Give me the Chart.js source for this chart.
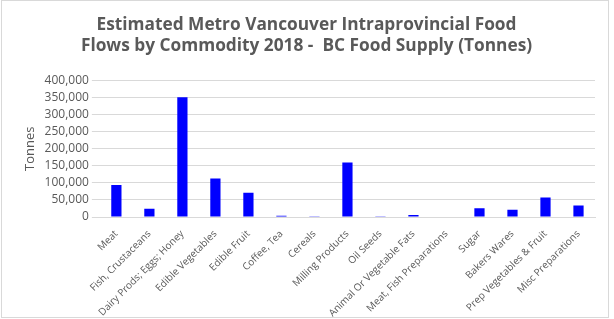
<!DOCTYPE html>
<html>
<head>
<meta charset="utf-8">
<script src="https://cdn.jsdelivr.net/npm/chart.js@4"></script>
<style>
  html, body { margin: 0; padding: 0; background: #fff; }
  #wrap { position: absolute; left: 1px; top: 0; width: 608px; height: 318px; border: 1px solid #d9d9d9; box-sizing: border-box; }
  canvas { display: block; }
</style>
</head>
<body>
<div id="wrap"><canvas id="flowChart" width="606" height="316"></canvas></div>
<script>
// Commodity categories and tonnes
const commodities = [
    'Meat', 'Fish, Crustaceans', 'Dairy Prods; Eggs; Honey', 'Edible Vegetables',
    'Edible Fruit', 'Coffee, Tea', 'Cereals', 'Milling Products', 'Oil Seeds',
    'Animal Or Vegetable Fats', 'Meat, Fish Preparations', 'Sugar', 'Bakers Wares',
    'Prep Vegetables & Fruit', 'Misc Preparations'
];
const tonnes = [94000, 24000, 351000, 113000, 71000, 4000, 1000, 160000, 1000, 6000, 1500, 26000, 21000, 57000, 34000];
const yTicks = [0, 50000, 100000, 150000, 200000, 250000, 300000, 350000, 400000];

const titleLines = [
    'Estimated Metro Vancouver Intraprovincial Food',
    'Flows by Commodity 2018 -  BC Food Supply (Tonnes)'
];

const ctx = document.getElementById('flowChart').getContext('2d');

new Chart(ctx, {
    type: 'bar',
    data: {
        labels: commodities,
        datasets: [{
            label: 'Tonnes',
            data: tonnes,
            backgroundColor: '#0000ff',
            barPercentage: 0.31,
            categoryPercentage: 1.0
        }]
    },
    options: {
        responsive: false,
        animation: false,
        layout: { padding: { left: 16, right: 13, top: 12, bottom: 0 } },
        plugins: {
            legend: { display: false },
            tooltip: { enabled: false },
            title: {
                display: true,
                text: titleLines,
                color: '#595959',
                font: { family: 'Open Sans', size: 17.3, weight: 'bold' },
                lineHeight: 1.42,
                padding: { top: 2, bottom: 24 }
            }
        },
        scales: {
            x: {
                grid: { display: false },
                border: { color: '#d9d9d9' },
                ticks: {
                    color: '#595959',
                    font: { family: 'Open Sans', size: 10 },
                    minRotation: 45,
                    maxRotation: 45,
                    autoSkip: false
                },
                afterFit: axis => { axis.height = 100; }
            },
            y: {
                min: 0,
                max: 400000,
                afterBuildTicks: axis => { axis.ticks = yTicks.map(v => ({ value: v })); },
                grid: { color: '#d9d9d9' },
                border: { display: false },
                ticks: {
                    color: '#595959',
                    font: { family: 'Open Sans', size: 12 },
                    padding: 3,
                    autoSkip: false,
                    callback: v => v.toLocaleString('en-US')
                },
                title: {
                    display: true,
                    text: 'Tonnes',
                    color: '#595959',
                    font: { family: 'Open Sans', size: 13 }
                }
            }
        }
    }
});
</script>
</body>
</html>
